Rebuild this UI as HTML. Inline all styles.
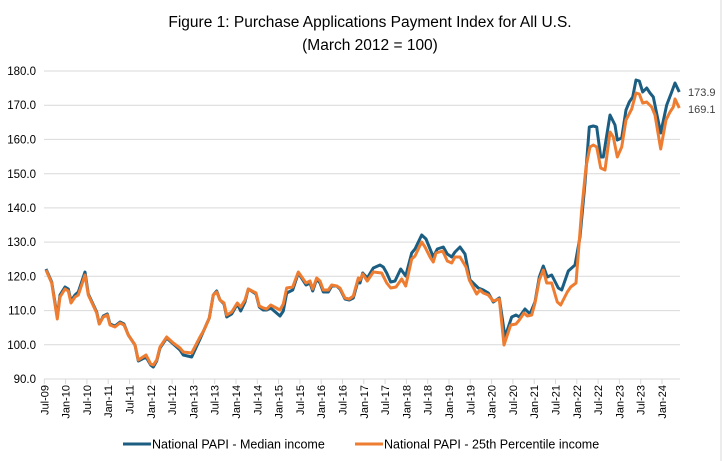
<!DOCTYPE html>
<html><head><meta charset="utf-8"><style>
html,body{margin:0;padding:0;background:#fff;}
svg{display:block;font-family:"Liberation Sans",Arial,sans-serif;}
</style></head><body>
<svg width="722" height="461" viewBox="0 0 722 461">
<rect x="0" y="0" width="722" height="461" fill="#fff"/>
<line x1="721" y1="0" x2="721" y2="461" stroke="#d9d9d9"/>
<text x="370" y="27" text-anchor="middle" font-size="15.5" fill="#000">Figure 1: Purchase Applications Payment Index for All U.S.</text>
<text x="370" y="50" text-anchor="middle" font-size="15.5" fill="#000">(March 2012 = 100)</text>
<g stroke="#d9d9d9" stroke-width="1">
<line x1="44" y1="71" x2="680" y2="71"/>
<line x1="44" y1="105.2" x2="680" y2="105.2"/>
<line x1="44" y1="139.4" x2="680" y2="139.4"/>
<line x1="44" y1="173.7" x2="680" y2="173.7"/>
<line x1="44" y1="207.9" x2="680" y2="207.9"/>
<line x1="44" y1="242.1" x2="680" y2="242.1"/>
<line x1="44" y1="276.3" x2="680" y2="276.3"/>
<line x1="44" y1="310.6" x2="680" y2="310.6"/>
<line x1="44" y1="344.8" x2="680" y2="344.8"/>
<line x1="44" y1="379" x2="680" y2="379"/>
</g>
<g font-size="11.5" fill="#000" text-anchor="end">
<text x="36" y="75">180.0</text><text x="36" y="109">170.0</text><text x="36" y="143.5">160.0</text>
<text x="36" y="178">150.0</text><text x="36" y="212">140.0</text><text x="36" y="246">130.0</text>
<text x="36" y="280.5">120.0</text><text x="36" y="314.5">110.0</text><text x="36" y="349">100.0</text>
<text x="36" y="383">90.0</text>
</g>
<g id="ticks" stroke="#d9d9d9"></g>
<g id="xl" font-size="11" fill="#000"></g>
<polyline fill="none" stroke="#1b5e82" stroke-width="3" stroke-linejoin="round" points="46,269 51.7,282 57.3,317 60,295 65,287 68.3,289 71,301 75,295 78.3,292 85,272 88.3,294 96.7,312 99.3,324 103.3,316 107.3,314 110,324 115,326 120,322 124,324 128.3,335 135,345 138.3,361 146,357 150.7,365 153.3,367 156.7,361 160,348 166.7,338 173.3,344 180,350 183.3,355 191.7,357 200,339 204,330 209.3,318 213.3,295 216.7,291 220,300 224,304 226.7,317 231.7,314 237.3,304 240.7,311 245,302 248.3,289 256,294 259.3,307 263.3,310 266.7,310 270.7,308 280,316 283.3,311 286.7,293 292.7,290 298.3,273 306,285 310,283 312.7,291 316.7,279 320,283 323.3,292 328.3,292 331.7,286 336.7,286 340,289 345,299 349.3,300 353.3,298 358.3,280 360,283 362.7,273 367.3,278 373.3,268 380,265 383.3,267 386.7,273 390.7,282 395,281 400.7,269 405.7,276 411.7,253 415,249 421.7,235 426,239 431.7,253 433.3,257 437.3,249 443.3,247 447.3,254 451.7,257 455,252 460,247 465,254 470,280 478.3,288 483.3,290 488.3,293 493.3,302 499.3,298 505,337 511.7,317 516,315 519.3,317 525,309 530,314 535,302 539.3,277 543.3,266 547.3,277 551.7,275 558.3,288 561.7,290 568.3,271 575,265 580,237 585,183 589.3,127 593.3,126 596.7,127 600.7,157 603.3,157 610,115 615,125 617.3,140 621.7,138 626,110 629.3,102 632.7,97 636,80 639.3,81 642.7,92 646.7,88 650,93 653.3,97 660.7,133 666.7,105 671.7,92 675,83 679.3,92"/>
<polyline fill="none" stroke="#ee7d31" stroke-width="3" stroke-linejoin="round" points="46,270 51.7,283 57.3,319 60,297 65,289 68.3,291 71,303 75,297 78.3,295 85,275 88.3,295 96.7,313 99.3,324 103.3,317 107.3,315 110,325 115,327 120,323 124,325 128.3,335 135,345 138.3,360 146,355 150.7,364 153.3,365 156.7,360 160,347 166.7,337 173.3,343 180,348 183.3,352 191.7,353 200,337 204,330 209.3,318 213.3,295 216.7,292 220,300 224,303 226.7,315 231.7,312 237.3,303 240.7,307 245,300 248.3,289 256,293 259.3,306 263.3,308 266.7,309 270.7,305 280,310 283.3,304 286.7,288 292.7,287 298.3,272 306,283 310,281 312.7,289 316.7,278 320,281 323.3,290 328.3,290 331.7,285 336.7,286 340,288 345,298 349.3,299 353.3,296 358.3,278 360,280 362.7,274 367.3,281 373.3,272 381.7,273 386.7,283 390.7,288 396,287 401.7,279 405.7,286 411.7,259 415,256 421.7,242 425,247 430,257 433.3,262 436,253 442.7,251 447.3,261 451.7,263 455,257 460,257 466,267 469.3,280 476.7,294 480,290 483.3,293 488.3,295 493.3,301 499.3,299 504,345 510.7,325 516,324 519.3,320 524,313 527.3,316 531.7,315 535,303 539.3,280 543.3,270 546.7,283 551.7,283 557.3,302 560.7,305 567.3,292 570.7,287 576,283 581.7,210 586,167 590,147 593.3,145 596.7,147 600.7,168 605,170 610,132 613.3,137 617.3,157 621.7,147 626,120 631.7,109 636,93 639.3,94 642.7,103 646.7,102 651.7,107 655,115 660.7,149 666,120 670,112 673.3,107 675,99 679.3,108"/>
<text x="688" y="96" font-size="11" fill="#404040">173.9</text>
<text x="688" y="113" font-size="11" fill="#404040">169.1</text>
<line x1="123" y1="444" x2="151" y2="444" stroke="#1b5e82" stroke-width="3"/>
<text x="152" y="448.5" font-size="12.5" fill="#000">National PAPI - Median income</text>
<line x1="355" y1="444" x2="383" y2="444" stroke="#ee7d31" stroke-width="3"/>
<text x="384" y="448.5" font-size="12.5" fill="#000">National PAPI - 25th Percentile income</text>
<script>
(function(){
var ns="http://www.w3.org/2000/svg";
var t=document.getElementById("ticks"),l=document.getElementById("xl");
for(var i=0;i<30;i++){
 var x=44.3+i*21.3;
 var ln=document.createElementNS(ns,"line");
 ln.setAttribute("x1",x);ln.setAttribute("x2",x);ln.setAttribute("y1",379);ln.setAttribute("y2",384);
 t.appendChild(ln);
 var yr=9+Math.floor((i+1)/2); var m=(i%2==0)?"Jul-":"Jan-";
 var s=m+(yr<10?"0"+yr:yr);
 var tx=document.createElementNS(ns,"text");
 tx.setAttribute("transform","translate("+(x+4)+",385) rotate(-90)");
 tx.setAttribute("text-anchor","end");
 tx.textContent=s;l.appendChild(tx);
}
})();
</script>
</svg>
</body></html>
